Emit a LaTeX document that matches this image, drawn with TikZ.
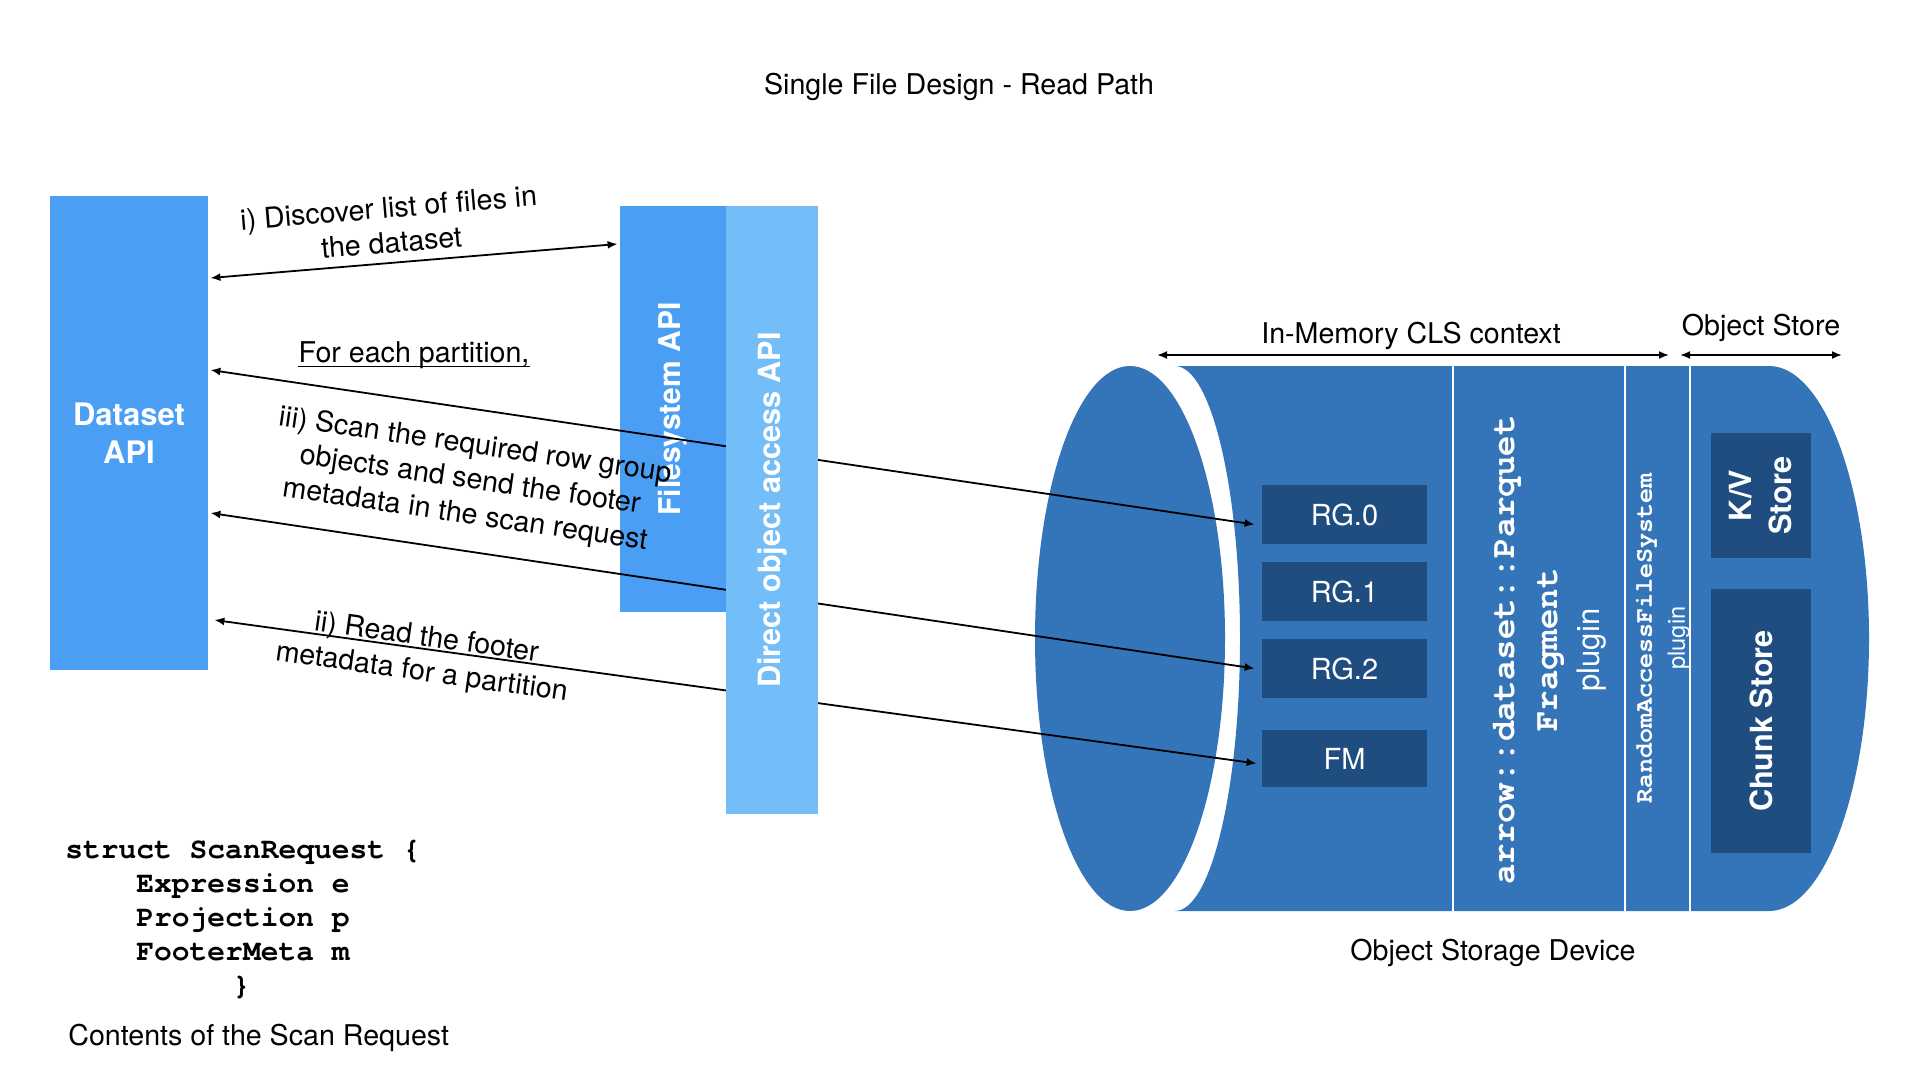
\documentclass[tikz,border=0pt]{standalone}
\usepackage{fontspec}
\setmainfont{TeX Gyre Heros}
\newfontfamily\codefont{TeX Gyre Cursor}
\usetikzlibrary{arrows.meta,calc}
\definecolor{apiblue}{HTML}{4A9FF5}
\definecolor{apilight}{HTML}{73BDF8}
\definecolor{osdblue}{HTML}{3474B8}
\definecolor{osddark}{HTML}{1F4D80}
\tikzset{
  apibox/.style={fill=apiblue, text=white, inner sep=0pt, align=center,
    font=\bfseries\fontsize{15.5}{19}\selectfont},
  rgbox/.style={fill=osddark, text=white, inner sep=0pt, minimum width=82.5pt,
    font=\fontsize{14.5}{17}\selectfont},
  storebox/.style={fill=osddark, inner sep=0pt, minimum width=50pt},
  vlabel/.style={rotate=90, text=white, inner sep=0pt, align=center},
  note/.style={inner sep=0pt, align=center, font=\fontsize{14.3}{17.5}\selectfont},
  link/.style={<->, >={Latex[length=5pt,width=4pt]}, line width=0.9pt},
  divider/.style={draw=white, line width=1.3pt}
}
\begin{document}
\begin{tikzpicture}[x=0.5pt, y=-0.5pt]
  \fill[white] (0,0) rectangle (1920,1080);
  \useasboundingbox (0,0) rectangle (1920,1080);
  \node[note] (title) at (959,87) {Single File Design - Read Path};

  % client side
  \node[apibox, minimum width=79pt, minimum height=237pt] (dataset) at (129,433) {Dataset\\API};
  \node[apibox, minimum width=53pt, minimum height=203pt] (fsapi) at (673,409) {};
  \node[vlabel, font=\bfseries\fontsize{15}{18}\selectfont] (fstext) at (fsapi) {Filesystem API};

  % object storage device
  \fill[osdblue] (1175,366) -- (1769,366)
    arc[start angle=-90, end angle=90, x radius=100, y radius=272.5]
    -- (1175,911)
    arc[start angle=90, end angle=-90, x radius=65, y radius=272.5] -- cycle;
  \fill[osdblue] (1130,638.5) ellipse [x radius=95, y radius=272.5];
  \draw[divider] (1453,366) -- (1453,911);
  \draw[divider] (1625,366) -- (1625,911);
  \draw[divider] (1690,366) -- (1690,911);

  \node[rgbox, minimum height=29.5pt] (rg0) at (1344.5,514.5) {RG.0};
  \node[rgbox, minimum height=29.5pt] (rg1) at (1344.5,591.5) {RG.1};
  \node[rgbox, minimum height=29.5pt] (rg2) at (1344.5,668.5) {RG.2};
  \node[rgbox, minimum height=28.5pt] (fm) at (1344.5,758.5) {FM};

  \node[vlabel, font=\fontsize{15.5}{21.3}\selectfont] (fraglbl) at (1550,650)
    {{\codefont\bfseries\fontsize{17}{21.3}\selectfont arrow::dataset::Parquet}\\
     {\codefont\bfseries\fontsize{17}{21.3}\selectfont Fragment}\\plugin};
  \node[vlabel, font=\fontsize{11.8}{16.5}\selectfont] (rafslbl) at (1663,638)
    {{\codefont\bfseries\fontsize{12.5}{16.5}\selectfont RandomAccessFileSystem}\\plugin};

  \node[storebox, minimum height=62.5pt] (kv) at (1761,495.5) {};
  \node[vlabel, font=\bfseries\fontsize{15.3}{20}\selectfont] (kvtext) at (kv) {K/V\\Store};
  \node[storebox, minimum height=132pt] (chunk) at (1761,721) {};
  \node[vlabel, font=\bfseries\fontsize{15.3}{19}\selectfont] (chunktext) at (chunk) {Chunk Store};

  \coordinate (clsL) at (1157,355);
  \coordinate (clsR) at (1669,355);
  \coordinate (osL) at (1680,355);
  \coordinate (osR) at (1842,355);
  \node[note] (clslbl) at (1411,336) {In-Memory CLS context};
  \node[note] (oslbl) at (1761,328) {Object Store};
  \node[note] (osdlbl) at (1493,953) {Object Storage Device};

  % connectors
  \begin{scope}[link]
    \draw ($(dataset.east)+(2,-155)$) to ($(fsapi.west)+(-2,-165)$);
    \draw ($(dataset.east)+(2,-63)$) to ($(rg0.west)+(-7,10)$);
    \draw ($(dataset.east)+(2,80)$) to ($(rg2.west)+(-7,0)$);
    \draw ($(dataset.east)+(6,187)$) to ($(fm.west)+(-5,5)$);
    \draw (clsL) to (clsR);
    \draw (osL) to (osR);
  \end{scope}

  \node[apibox, fill=apilight, minimum width=46pt, minimum height=304pt] (doapi) at (772,510) {};
  \node[vlabel, font=\bfseries\fontsize{15.3}{18}\selectfont] (dotext) at (doapi) {Direct object access API};

  % step labels
  \node[note, rotate=4.8] (discover) at (390,225) {i) Discover list of files in\\the dataset};
  \node[note] (each) at (414,355) {For each partition,};
  \draw[line width=0.7pt] ($(each.base west)+(0,4)$) -- ($(each.base east)+(0,4)$);
  \node[note, rotate=-8.3] (scan) at (470,481)
    {iii) Scan the required row group\\objects and send the footer\\metadata in the scan request};
  \node[note, rotate=-8] (footer) at (424,656) {ii) Read the footer\\metadata for a partition};

  % scan request
  \node[inner sep=0pt, anchor=north west, align=left,
    font=\codefont\bfseries\fontsize{14.8}{17}\selectfont] (request) at (65,840)
    {struct ScanRequest \{\\
     \hspace*{2.4em}Expression e\\
     \hspace*{2.4em}Projection p\\
     \hspace*{2.4em}FooterMeta m\\
     \hspace*{5.65em}\}};
  \node[note, anchor=west] (reqlbl) at (68,1038) {Contents of the Scan Request};
\end{tikzpicture}
\end{document}
